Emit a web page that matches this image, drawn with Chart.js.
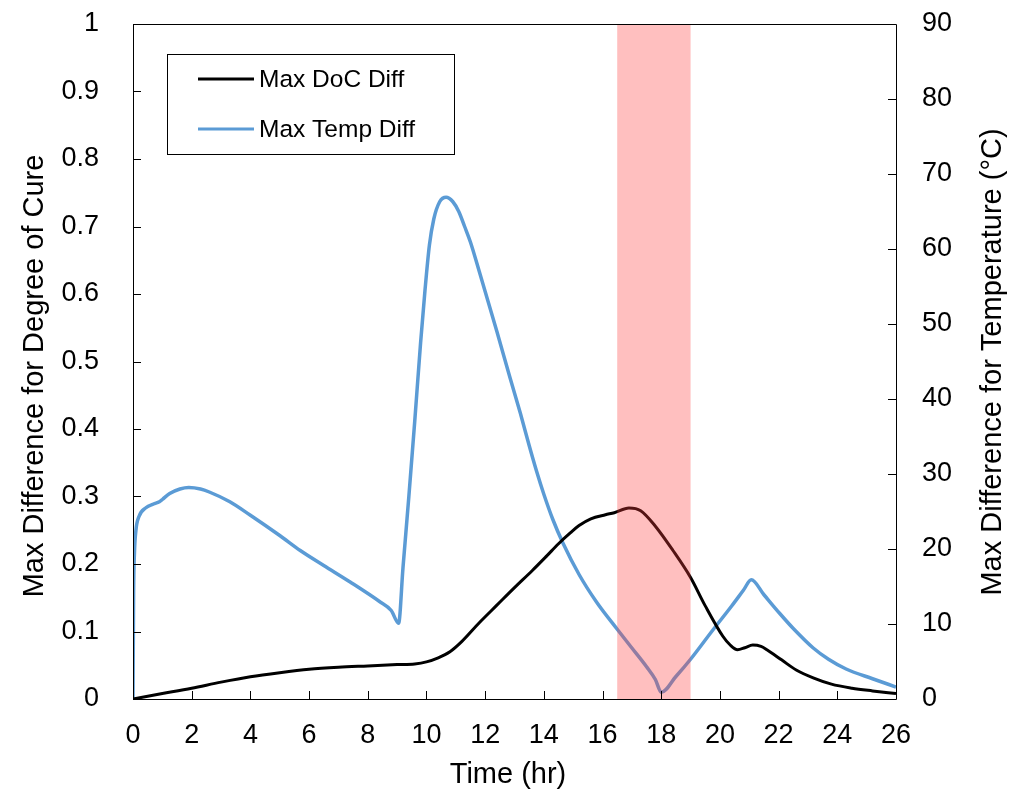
<!DOCTYPE html>
<html>
<head>
<meta charset="utf-8">
<script src="https://cdn.jsdelivr.net/npm/chart.js@4/dist/chart.umd.min.js"></script>
<style>
  html, body { margin: 0; padding: 0; background: #fff; }
  #wrap { width: 1012px; height: 791px; }
</style>
</head>
<body>
<div id="wrap"><canvas id="c" width="1012" height="791"></canvas></div>
<script>
// ---- data ----
const docTime = [0, 1, 2, 3, 4, 5, 6, 7, 8, 9, 9.6, 10, 10.4, 10.8, 11.2, 11.8, 12.4, 13.0, 13.6, 14.1, 14.5, 14.9, 15.2, 15.6, 16.1, 16.4, 16.9, 17.3, 17.8, 18.4, 19, 19.5, 20.1, 20.35, 20.6, 20.85, 21.12, 21.4, 21.6, 22.1, 22.6, 23.2, 23.8, 24.5, 25.2, 26];
const docValues = [0, 0.008, 0.016, 0.025, 0.033, 0.039, 0.044, 0.047, 0.049, 0.051, 0.052, 0.055, 0.061, 0.070, 0.085, 0.113, 0.139, 0.165, 0.190, 0.212, 0.230, 0.246, 0.257, 0.267, 0.273, 0.276, 0.283, 0.279, 0.256, 0.220, 0.180, 0.138, 0.093, 0.080, 0.073, 0.076, 0.080, 0.078, 0.073, 0.058, 0.043, 0.031, 0.022, 0.016, 0.012, 0.008];

const tempTime = [0, 0.02, 0.05, 0.1, 0.2, 0.44, 0.7, 0.9, 1.0, 1.25, 1.6, 1.9, 2.3, 2.6, 3.3, 4.0, 5.0, 5.7, 6.5, 7.4, 8.4, 8.8, 9.05, 9.2, 9.4, 9.6, 9.8, 9.95, 10.1, 10.25, 10.45, 10.67, 10.9, 11.1, 11.3, 11.5, 11.8, 12.1, 12.4, 12.85, 13.2, 13.5, 13.75, 14.0, 14.3, 14.65, 15.2, 15.8, 16.5, 17.0, 17.5, 17.8, 18.0, 18.5, 19.0, 19.76, 20.4, 20.8, 21.07, 21.5, 22.04, 22.5, 23.18, 23.7, 24.3, 25.2, 26];
const tempValues = [0, 14, 19.5, 22.5, 24.3, 25.5, 26.0, 26.3, 26.6, 27.4, 28.0, 28.2, 28.0, 27.6, 26.3, 24.5, 21.8, 19.8, 17.8, 15.6, 13.0, 11.8, 10.1, 17.5, 27, 37, 47.5, 54.5, 60.5, 64, 66.3, 66.9, 66.3, 65.0, 63.0, 60.9, 57.0, 53.0, 49.0, 42.8, 38.1, 33.8, 30.4, 27.3, 24.0, 20.8, 16.6, 12.9, 9.3, 6.8, 4.3, 2.6, 0.9, 3.0, 5.3, 9.2, 12.4, 14.5, 15.9, 13.9, 11.4, 9.4, 6.8, 5.3, 4.0, 2.7, 1.6];

const seriesLabels = ['Max DoC Diff', 'Max Temp Diff'];
const axisTitles = ['Time (hr)', 'Max Difference for Degree of Cure', 'Max Difference for Temperature (°C)'];
const shadedBand = [16.5, 19];
const xTickStep = 2;
const leftTickStep = 0.1;
const rightTickStep = 10;

const FONT = "'Liberation Sans', Arial, sans-serif";
const COLORS = ['#000000', '#5B9BD5'];

function toPoints(xs, ys) { return xs.map((x, i) => ({ x: x, y: ys[i] })); }

// shaded band drawn over the lines (semi-transparent)
const bandPlugin = {
  id: 'band',
  afterDatasetsDraw(chart) {
    const { ctx, chartArea, scales } = chart;
    const x0 = scales.x.getPixelForValue(shadedBand[0]);
    const x1 = scales.x.getPixelForValue(shadedBand[1]);
    ctx.save();
    ctx.fillStyle = 'rgba(255, 60, 60, 0.33)';
    ctx.fillRect(x0, chartArea.top, x1 - x0, chartArea.bottom - chartArea.top);
    ctx.restore();
  }
};

// frame + inward ticks + titles + legend
const framePlugin = {
  id: 'frame',
  afterDraw(chart) {
    const { ctx, chartArea, scales } = chart;
    const L = chartArea.left, R = chartArea.right, T = chartArea.top, B = chartArea.bottom;
    ctx.save();
    ctx.strokeStyle = '#000';
    ctx.lineWidth = 1;
    ctx.beginPath();
    ctx.rect(Math.round(L) + 0.5, Math.round(T) + 0.5, Math.round(R - L), Math.round(B - T));
    ctx.stroke();
    const tl = 8;
    ctx.beginPath();
    scales.x.ticks.forEach(t => {
      const px = Math.round(scales.x.getPixelForValue(t.value)) + 0.5;
      ctx.moveTo(px, B); ctx.lineTo(px, B - tl);
    });
    scales.y.ticks.forEach(t => {
      const py = Math.round(scales.y.getPixelForValue(t.value)) + 0.5;
      ctx.moveTo(L, py); ctx.lineTo(L + tl, py);
    });
    scales.y1.ticks.forEach(t => {
      const py = Math.round(scales.y1.getPixelForValue(t.value)) + 0.5;
      ctx.moveTo(R, py); ctx.lineTo(R - tl, py);
    });
    ctx.stroke();

    // axis titles
    ctx.fillStyle = '#000';
    ctx.font = '29px ' + FONT;
    ctx.textAlign = 'center';
    ctx.textBaseline = 'middle';
    ctx.fillText(axisTitles[0], 508, 775);
    ctx.save();
    ctx.translate(35, 376); ctx.rotate(-Math.PI / 2);
    ctx.fillText(axisTitles[1], 0, 0);
    ctx.restore();
    ctx.save();
    ctx.translate(993, 362); ctx.rotate(-Math.PI / 2);
    ctx.fillText(axisTitles[2], 0, 0);
    ctx.restore();

    // legend box
    const bx = 167, by = 54, bw = 287, bh = 100;
    ctx.fillStyle = '#fff';
    ctx.fillRect(bx, by, bw, bh);
    ctx.strokeStyle = '#000';
    ctx.lineWidth = 1;
    ctx.strokeRect(bx + 0.5, by + 0.5, bw, bh);
    const rows = [79, 129];
    chart.data.datasets.forEach((ds, i) => {
      ctx.strokeStyle = ds.borderColor;
      ctx.lineWidth = 3;
      ctx.beginPath();
      ctx.moveTo(198, rows[i]); ctx.lineTo(254, rows[i]);
      ctx.stroke();
      ctx.fillStyle = '#000';
      ctx.font = '24.5px ' + FONT;
      ctx.textBaseline = 'middle';
      ctx.textAlign = 'left';
      ctx.fillText(ds.label, 259, rows[i] + 1);
    });
    ctx.restore();
  }
};

function noPad(s) { s.paddingTop = 0; s.paddingBottom = 0; s.paddingLeft = 0; s.paddingRight = 0; }

new Chart(document.getElementById('c'), {
  type: 'line',
  data: {
    datasets: [
      {
        label: seriesLabels[0],
        data: toPoints(docTime, docValues),
        borderColor: COLORS[0],
        borderWidth: 3,
        pointRadius: 0,
        cubicInterpolationMode: 'monotone',
        yAxisID: 'y'
      },
      {
        label: seriesLabels[1],
        data: toPoints(tempTime, tempValues),
        borderColor: COLORS[1],
        borderWidth: 3.5,
        pointRadius: 0,
        cubicInterpolationMode: 'monotone',
        yAxisID: 'y1'
      }
    ]
  },
  options: {
    responsive: false,
    animation: false,
    layout: { padding: { top: 24, left: 0, right: 0, bottom: 0 } },
    plugins: { legend: { display: false }, tooltip: { enabled: false } },
    scales: {
      x: {
        type: 'linear', min: 0, max: 26,
        ticks: { stepSize: xTickStep, color: '#000', font: { family: FONT, size: 27 }, padding: 12, maxRotation: 0 },
        grid: { display: false },
        border: { display: false },
        afterFit(s) { s.height = 92; noPad(s); }
      },
      y: {
        type: 'linear', position: 'left', min: 0, max: 1,
        ticks: { stepSize: leftTickStep, color: '#000', font: { family: FONT, size: 27 }, padding: 26,
          callback: v => String(Math.round(v * 10) / 10) },
        grid: { display: false },
        border: { display: false },
        afterFit(s) { s.width = 133; noPad(s); }
      },
      y1: {
        type: 'linear', position: 'right', min: 0, max: 90,
        ticks: { stepSize: rightTickStep, color: '#000', font: { family: FONT, size: 27 }, padding: 18 },
        grid: { display: false },
        border: { display: false },
        afterFit(s) { s.width = 116; noPad(s); }
      }
    }
  },
  plugins: [bandPlugin, framePlugin]
});
</script>
</body>
</html>
